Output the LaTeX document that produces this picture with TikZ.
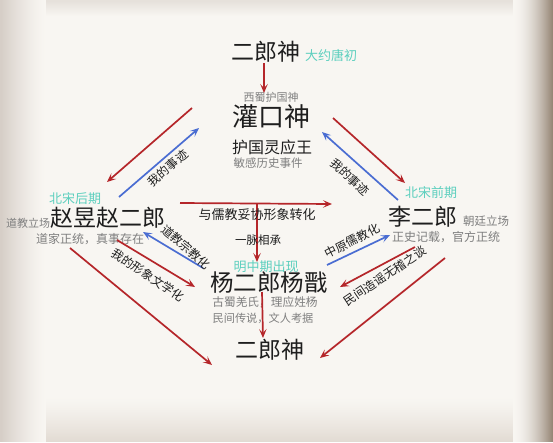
\documentclass[tikz,border=0pt]{standalone}
\usepackage{fontspec}
\setmainfont{Noto Sans CJK SC}
\usetikzlibrary{arrows.meta}
\definecolor{arred}{HTML}{B5262A}
\definecolor{arblue}{HTML}{4A6DD2}
\definecolor{teal}{HTML}{5CCFBE}
\definecolor{graytxt}{HTML}{7F7F7F}
\definecolor{darktxt}{HTML}{1E1E1E}
\tikzset{
  big/.style={font=\fontsize{23}{23}\selectfont, text=darktxt, inner sep=0pt},
  era/.style={font=\fontsize{13}{13}\selectfont, text=teal, inner sep=0pt},
  note/.style={font=\fontsize{11.5}{11.5}\selectfont, text=graytxt, inner sep=0pt},
  lab/.style={font=\fontsize{12}{12}\selectfont, text=darktxt, inner sep=0pt},
  redarr/.style={draw=arred, line width=1.7pt, -{Stealth[length=9pt,width=7.5pt,inset=4pt]}},
  bluearr/.style={draw=arblue, line width=1.7pt, -{Stealth[length=9pt,width=7.5pt,inset=4pt]}},
}
\newcommand{\mkfade}[4]{%
  \pgfmathsetmacro{\fr}{0.973*(1-#1)+#2*#1}%
  \pgfmathsetmacro{\fg}{0.965*(1-#1)+#3*#1}%
  \pgfmathsetmacro{\fb}{0.949*(1-#1)+#4*#1}%
  \definecolor{fadec}{rgb}{\fr,\fg,\fb}}
\begin{document}
\begin{tikzpicture}[x=1pt,y=-1pt]
\useasboundingbox (0,0) rectangle (553,442);
\mkfade{0}{0.5}{0.5}{0.5}
\fill[fill=fadec] (0,0) rectangle (553,442);
% bottom fade
\foreach \j in {44,43,...,0}{
  \pgfmathsetmacro{\t}{(1-\j/45)^1.3}
  \mkfade{\t}{0.886}{0.859}{0.827}
  \fill[fill=fadec] (0,442-\j-1.5) rectangle (553,442);
}
% top fade
\foreach \j in {14,13,...,0}{
  \pgfmathsetmacro{\t}{1-\j/15}
  \mkfade{\t}{0.902}{0.882}{0.859}
  \fill[fill=fadec] (0,0) rectangle (553,\j+1.5);
}
% left fade
\foreach \i in {44,43,...,0}{
  \pgfmathsetmacro{\t}{(1-\i/45)^1.4}
  \mkfade{\t}{0.839}{0.808}{0.780}
  \fill[fill=fadec] (0,0) rectangle (\i+1.5,442);
}
% right fade
\foreach \i in {39,38,...,0}{
  \pgfmathsetmacro{\t}{(1-\i/40)^1.8}
  \mkfade{\t}{0.588}{0.525}{0.463}
  \fill[fill=fadec] (553-\i-1.5,0) rectangle (553,442);
}

% nodes
\node[big] (top) at (266,52) {二郎神};
\node[era] (tang) at (331,55) {大约唐初};
\node[note, font=\fontsize{11}{11}\selectfont] (xishu) at (271,97) {西蜀护国神};
\node[big, font=\fontsize{26}{26}\selectfont] (guan) at (271,117) {灌口神};
\node[lab, font=\fontsize{16}{16}\selectfont] (huguo) at (272,147) {护国灵应王};
\node[note] (mingan) at (268,163) {敏感历史事件};

\node[era] (bsh) at (75,199) {北宋后期};
\node[big] (zhao) at (108,218) {赵昱赵二郎};
\node[note, font=\fontsize{11}{11}\selectfont] (daoli) at (28,223) {道教立场};
\node[note, font=\fontsize{12}{12}\selectfont] (daojia) at (90,239) {道家正统，真事存在};

\node[era] (bsq) at (431,193) {北宋前期};
\node[big] (li) at (423,217) {李二郎};
\node[note] (chao) at (486,221) {朝廷立场};
\node[note, font=\fontsize{12}{12}\selectfont] (zhengshi) at (446,237) {正史记载，官方正统};

\node[era] (ming) at (266,267) {明中期出现};
\node[big, font=\fontsize{23.5}{23.5}\selectfont] (yang) at (269,283) {杨二郎杨戬};
\node[note, font=\fontsize{11.7}{11.7}\selectfont] (gushu) at (265,302) {古蜀羌氏，理应姓杨};
\node[note, font=\fontsize{11.2}{11.2}\selectfont] (minjian) at (263,318) {民间传说，文人考据};
\node[big] (bot) at (270,350) {二郎神};

% coordinates for connector ends
\coordinate (c1a) at (264,63);  \coordinate (c1b) at (264,93);
\coordinate (c2a) at (192,108); \coordinate (c2b) at (107,182);
\coordinate (c3a) at (119,197); \coordinate (c3b) at (199,128);
\coordinate (c4a) at (333,118); \coordinate (c4b) at (405,183);
\coordinate (c5a) at (398,200); \coordinate (c5b) at (322,132);
\coordinate (c6a) at (180,203); \coordinate (c6b) at (332,204);
\coordinate (c7a) at (257,204); \coordinate (c7b) at (257,262);
\coordinate (c8a) at (203,268); \coordinate (c8b) at (143,232);
\coordinate (c9a) at (117,240); \coordinate (c9b) at (195,287);
\coordinate (c10a) at (70,248); \coordinate (c10b) at (212,365);
\coordinate (c11a) at (327,265); \coordinate (c11b) at (390,235);
\coordinate (c12a) at (415,247); \coordinate (c12b) at (340,287);
\coordinate (c13a) at (445,258); \coordinate (c13b) at (320,358);
\coordinate (c14a) at (262,292); \coordinate (c14b) at (263,338);

\draw[redarr] (c1a) -- (c1b);
\draw[redarr] (c2a) -- (c2b);
\draw[bluearr] (c3a) -- (c3b);
\draw[redarr] (c4a) -- (c4b);
\draw[bluearr] (c5a) -- (c5b);
\draw[redarr] (c6a) -- (c6b);
\draw[redarr] (c7a) -- (c7b);
\draw[bluearr] (c8a) -- (c8b);
\draw[redarr] (c9a) -- (c9b);
\draw[redarr] (c10a) -- (c10b);
\draw[bluearr] (c11a) -- (c11b);
\draw[redarr] (c12a) -- (c12b);
\draw[redarr] (c13a) -- (c13b);
\draw[redarr] (c14a) -- (c14b);

% connector labels
\node[lab, font=\fontsize{13}{13}\selectfont] (tuoxie) at (257,215) {与儒教妥协形象转化};
\node[lab, font=\fontsize{11.5}{11.5}\selectfont] (maixiang) at (258,240) {一脉相承};
\node[lab, rotate=41] (shijiL) at (168,168) {我的事迹};
\node[lab, rotate=-42] (shijiR) at (350,177) {我的事迹};
\node[lab, rotate=-40] (zongjiao) at (186,247) {道教宗教化};
\node[lab, rotate=-34] (wenxue) at (148,275) {我的形象文学化};
\node[lab, rotate=27] (rujiao) at (352,241) {中原儒教化};
\node[lab, rotate=34] (zaoyao) at (385,276) {民间造谣无稽之谈};
\end{tikzpicture}
\end{document}
